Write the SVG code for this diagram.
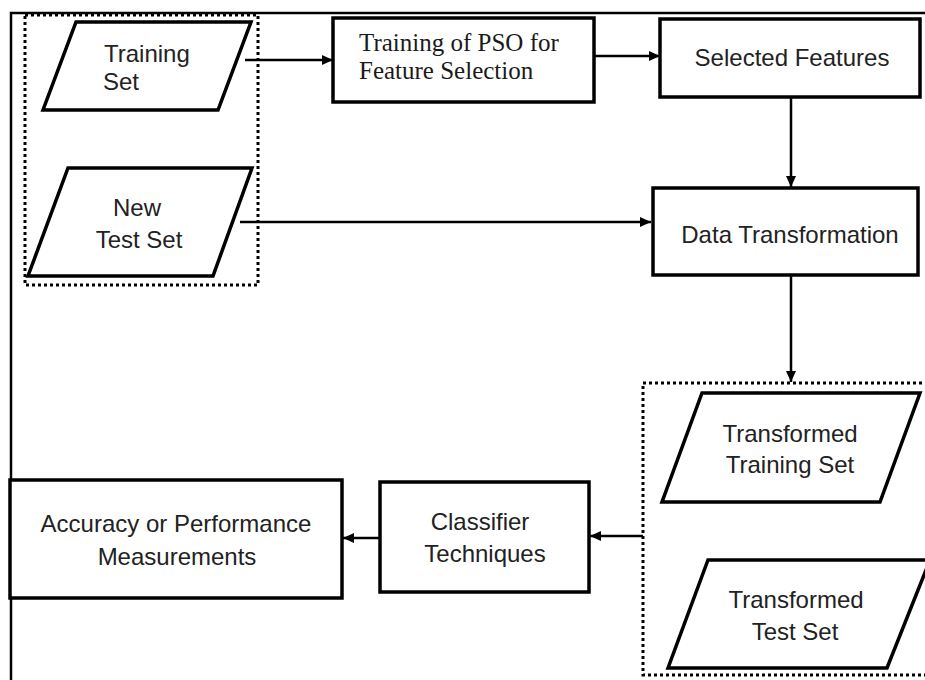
<svg xmlns="http://www.w3.org/2000/svg" width="925" height="680" viewBox="0 0 925 680">
<defs>
<marker id="arr" markerUnits="userSpaceOnUse" markerWidth="12" markerHeight="12" viewBox="0 0 12 12" refX="11" refY="6" orient="auto">
<path d="M0,1 L11,6 L0,11 Z" fill="#000"/>
</marker>
<style>
.box{fill:#fff;stroke:#000;stroke-width:3.5}
.grp{fill:none;stroke:#000;stroke-width:3;stroke-dasharray:3 3}
.frame{fill:none;stroke:#000;stroke-width:2.5}
.conn{fill:none;stroke:#000;stroke-width:2.5;marker-end:url(#arr)}
.t{font-family:"Liberation Sans",Arial,sans-serif;font-size:24px;fill:#222}
.s{font-family:"Liberation Serif","Times New Roman",serif;font-size:25px;fill:#1a1a1a}
.c{text-anchor:middle}
</style>
</defs>
<rect width="925" height="680" fill="#fff"/>
<path class="frame" d="M11,680 L11,13 L925,13"/>
<g id="inputs-group"><rect class="grp" x="25" y="15" width="233" height="270"/></g>
<g id="transformed-group"><rect class="grp" x="643" y="383" width="290" height="292"/></g>
<g id="connectors">
<path class="conn" d="M245,60 L333,60"/>
<path class="conn" d="M586,56 L660,56"/>
<path class="conn" d="M791,97 L791,187"/>
<path class="conn" d="M240,222 L651,222"/>
<path class="conn" d="M791,275 L791,382"/>
<path class="conn" d="M643,536 L590,536"/>
<path class="conn" d="M380,538 L343,538"/>
</g>
<g id="training-set">
<polygon class="box" points="76,22 251,22 218,110 43,110"/>
<text class="t" x="104" y="62">Training</text>
<text class="t" x="103" y="90">Set</text>
</g>
<g id="new-test-set">
<polygon class="box" points="68,168 252,168 213,276 28,276"/>
<text class="t c" x="137" y="216">New</text>
<text class="t c" x="139" y="248">Test Set</text>
</g>
<g id="pso">
<rect class="box" x="333" y="18" width="261" height="84"/>
<text class="s" x="359" y="51">Training of PSO for</text>
<text class="s" x="359" y="79">Feature Selection</text>
</g>
<g id="selected-features">
<rect class="box" x="660" y="19" width="260" height="78"/>
<text class="t c" x="792" y="66">Selected Features</text>
</g>
<g id="data-transformation">
<rect class="box" x="653" y="188" width="265" height="87"/>
<text class="t c" x="790" y="243">Data Transformation</text>
</g>
<g id="transformed-training-set">
<polygon class="box" points="702,393 920,393 880,502 662,502"/>
<text class="t c" x="790" y="442">Transformed</text>
<text class="t c" x="790" y="473">Training Set</text>
</g>
<g id="transformed-test-set">
<polygon class="box" points="708,560 930,560 887,668 668,668"/>
<text class="t c" x="796" y="608">Transformed</text>
<text class="t c" x="795" y="640">Test Set</text>
</g>
<g id="classifier">
<rect class="box" x="380" y="482" width="209" height="110"/>
<text class="t c" x="480" y="530">Classifier</text>
<text class="t c" x="485" y="562">Techniques</text>
</g>
<g id="accuracy">
<rect class="box" x="10" y="480" width="332" height="118"/>
<text class="t c" x="176" y="532">Accuracy or Performance</text>
<text class="t c" x="177" y="565">Measurements</text>
</g>
</svg>
